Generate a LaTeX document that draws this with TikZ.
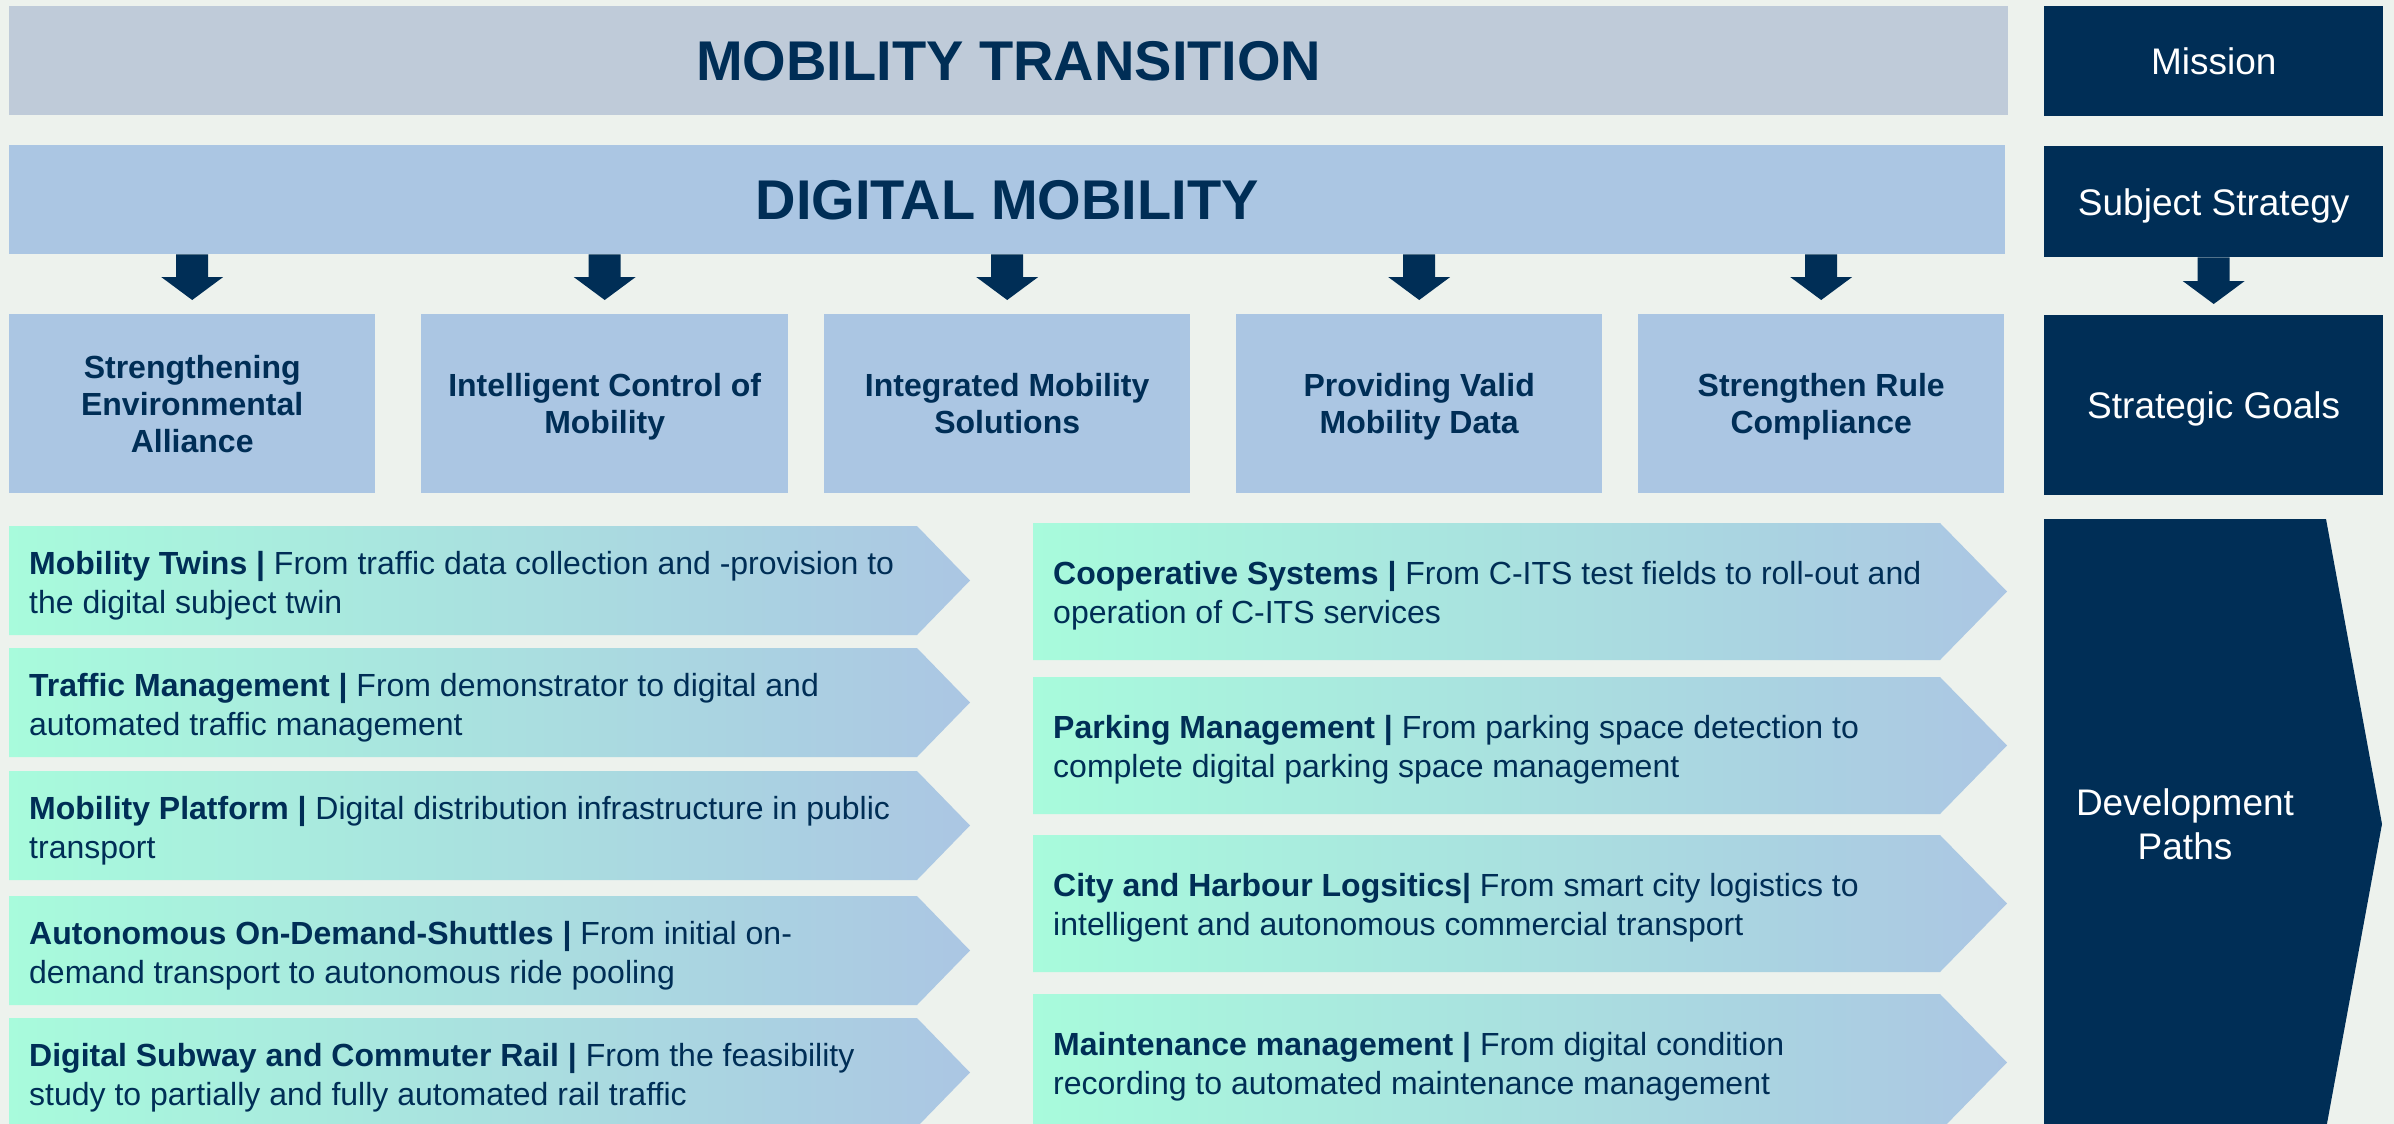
\documentclass[tikz,border=0pt]{standalone}
\usepackage{fontspec}
\setmainfont{Liberation Sans}
\usetikzlibrary{calc,positioning}

\definecolor{backdrop}{RGB}{237,242,237}
\definecolor{greyblue}{RGB}{191,203,217}
\definecolor{paleblue}{RGB}{171,198,227}
\definecolor{mint}{RGB}{168,251,220}
\definecolor{navy}{RGB}{0,46,86}

\tikzset{
  banner/.style={anchor=north west, inner sep=0pt, minimum height=109,
    text height=40, text depth=-1,
    text=navy, font=\bfseries\fontsize{56}{67}\selectfont},
  goalbox/.style={anchor=north west, inner sep=0pt, fill=paleblue,
    minimum width=366, minimum height=179, text=navy, align=center,
    text depth=-1, font=\bfseries\fontsize{32}{37}\selectfont},
  levelbox/.style={anchor=north west, inner sep=0pt, fill=navy,
    minimum width=339, text=white, align=center,
    text height=27, text depth=0, font=\fontsize{37}{44}\selectfont},
  pathtext/.style={anchor=west, inner sep=0pt, text=navy, align=left,
    text depth=0, font=\fontsize{32}{39}\selectfont},
}

% block arrow from top point #1 down to tip #2
\newcommand{\blockdown}[2]{%
  \fill[navy] ($(#1)+(-16,0)$) -- ($(#1)+(16,0)$) -- ($(#2)+(16,-23)$)
    -- ($(#2)+(31,-23)$) -- (#2) -- ($(#2)+(-31,-23)$)
    -- ($(#2)+(-16,-23)$) -- cycle;}

\begin{document}
\begin{tikzpicture}[x=1pt, y=-1pt]
    \useasboundingbox (0,0) rectangle (2394,1124);
    \clip (0,0) rectangle (2394,1124);
    \fill[backdrop] (0,0) rectangle (2394,1124);

    % mission and strategy bands
    \node[banner, fill=greyblue, minimum width=1999] (mt) at (9,6) {MOBILITY TRANSITION};
    \node[banner, fill=paleblue, minimum width=1996] (dm) at (9,145) {DIGITAL MOBILITY};

    % level labels right
    \node[levelbox, minimum height=110] (mission) at (2044,6) {Mission};
    \node[levelbox, minimum height=111] (strategy) at (2044,146) {Subject Strategy};
    \node[levelbox, minimum height=180] (goals) at (2044,315) {Strategic Goals};

    % strategic goals
    \node[goalbox] (g1) at (9,314) {Strengthening\\Environmental\\Alliance};
    \node[goalbox, minimum width=367] (g2) at (421,314) {Intelligent Control of\\Mobility};
    \node[goalbox] (g3) at (824,314) {Integrated Mobility\\Solutions};
    \node[goalbox] (g4) at (1236,314) {Providing Valid\\Mobility Data};
    \node[goalbox] (g5) at (1638,314) {Strengthen Rule\\Compliance};

    % arrows
    \foreach \g in {g1,g2,g3,g4,g5} {
        \coordinate (top-\g) at (dm.south -| \g.north);
        \coordinate (tip-\g) at ($(\g.north)+(0,-14)$);
        \blockdown{top-\g}{tip-\g}
    }
    \coordinate (top-goals) at (strategy.south);
    \coordinate (tip-goals) at ($(goals.north)+(0,-11)$);
    \blockdown{top-goals}{tip-goals}

    % development paths left
    \foreach \y in {526,648,771,896,1018}
        \shade[left color=mint, right color=paleblue] (9,\y) -- (917,\y)
            -- (970,\y+54.5) -- (917,\y+109) -- (9,\y+109) -- cycle;
    \node[pathtext] (p1) at (29,582) {\textbf{Mobility Twins |} From traffic data collection and -provision to\\the digital subject twin};
    \node[pathtext] (p2) at (29,704) {\textbf{Traffic Management |} From demonstrator to digital and\\automated traffic management};
    \node[pathtext] (p3) at (29,827) {\textbf{Mobility Platform |} Digital distribution infrastructure in public\\transport};
    \node[pathtext] (p4) at (29,952) {\textbf{Autonomous On-Demand-Shuttles |} From initial on-\\demand transport to autonomous ride pooling};
    \node[pathtext] (p5) at (29,1074) {\textbf{Digital Subway and Commuter Rail |} From the feasibility\\study to partially and fully automated rail traffic};

    % development paths right
    \foreach \y in {523,677,835,994}
        \shade[left color=mint, right color=paleblue] (1033,\y) -- (1940,\y)
            -- (2007,\y+68.5) -- (1940,\y+137) -- (1033,\y+137) -- cycle;
    \node[pathtext] (p6) at (1053,592) {\textbf{Cooperative Systems |} From C-ITS test fields to roll-out and\\operation of C-ITS services};
    \node[pathtext] (p7) at (1053,746) {\textbf{Parking Management |} From parking space detection to\\complete digital parking space management};
    \node[pathtext] (p8) at (1053,904) {\textbf{City and Harbour Logsitics|} From smart city logistics to\\intelligent and autonomous commercial transport};
    \node[pathtext] (p9) at (1053,1063) {\textbf{Maintenance management |} From digital condition\\recording to automated maintenance management};

    % development paths label
    \fill[navy] (2044,519) -- (2326,519) -- (2382,824) -- (2326,1129) -- (2044,1129) -- cycle;
    \node[text=white, align=center, font=\fontsize{37}{44}\selectfont] (paths) at (2185,824) {Development\\Paths};
\end{tikzpicture}
\end{document}
